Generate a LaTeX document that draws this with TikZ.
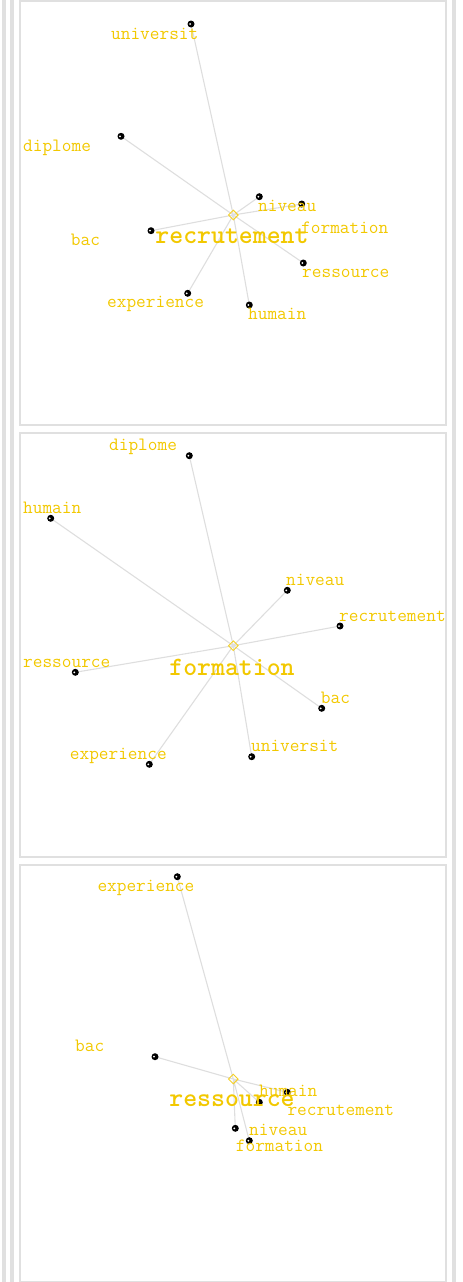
\documentclass[tikz,border=0pt]{standalone}
\usepackage{fontspec}
\usetikzlibrary{shapes.geometric,backgrounds}
\definecolor{wordgold}{RGB}{242,200,0}
\definecolor{linkgray}{RGB}{222,222,222}
\definecolor{framegray}{RGB}{224,224,224}
\tikzset{
  word/.style={text=wordgold,font=\ttfamily\fontsize{18.8}{20}\selectfont,inner sep=0pt,anchor=base west},
  keyword/.style={text=wordgold,font=\ttfamily\bfseries\fontsize{26.5}{28}\selectfont,inner sep=0pt,anchor=base},
  hub/.style={diamond,draw=wordgold!85,line width=0.9pt,inner sep=0pt,minimum size=10pt},
  ball/.style={circle,fill=black,inner sep=0pt,minimum size=7pt,
    path picture={\fill[white] ([xshift=-1pt]path picture bounding box.center) circle (1pt);}},
  link/.style={draw=linkgray,line width=1.1pt},
  panel/.style={draw=framegray,line width=2pt},
}
\begin{document}
\begin{tikzpicture}[x=1pt,y=-1pt]
\useasboundingbox (0,0) rectangle (463,1282);
\fill[framegray] (1.7,0) rectangle (5.7,1282);
\fill[framegray] (9.5,0) rectangle (14,1282);
\fill[framegray] (451.7,0) rectangle (455.8,1282);
\draw[panel] (20,1) rectangle (445.5,425);
\draw[panel] (20,433) rectangle (445.5,856.5);
\draw[panel] (20,865) rectangle (445.5,1281.5);

\node[hub] (rc) at (233.3,215) {};
\node[ball] (r1) at (191,24) {};
\node[ball] (r2) at (121,136.3) {};
\node[ball] (r3) at (259.3,196.7) {};
\node[ball] (r4) at (301.7,204) {};
\node[ball] (r5) at (151,230.7) {};
\node[ball] (r6) at (303.3,263) {};
\node[ball] (r7) at (187.7,293.3) {};
\node[ball] (r8) at (249.3,305) {};
\node[keyword] (rk) at (232,243) {recrutement};
\node[word] (rw1) at (111,39) {universit};
\node[word] (rw2) at (23,151.5) {diplome};
\node[word] (rw3) at (258,211) {niveau};
\node[word] (rw4) at (301,233) {formation};
\node[word] (rw5) at (70.7,245.5) {bac};
\node[word] (rw6) at (302,277.5) {ressource};
\node[word] (rw7) at (107,307) {experience};
\node[word] (rw8) at (248,319) {humain};

\node[hub] (fc) at (233.3,645.7) {};
\node[ball] (f1) at (189.3,455.7) {};
\node[ball] (f2) at (50.7,518.3) {};
\node[ball] (f3) at (287.3,590.3) {};
\node[ball] (f4) at (340,626) {};
\node[ball] (f5) at (75.3,672.3) {};
\node[ball] (f6) at (321.7,708.3) {};
\node[ball] (f7) at (251.7,756.7) {};
\node[ball] (f8) at (149.3,764.3) {};
\node[keyword] (fk) at (232,675) {formation};
\node[word] (fw1) at (109,450.7) {diplome};
\node[word] (fw2) at (23,513.3) {humain};
\node[word] (fw3) at (286,585) {niveau};
\node[word] (fw4) at (339,621) {recrutement};
\node[word] (fw5) at (23,667.3) {ressource};
\node[word] (fw6) at (320.7,703.3) {bac};
\node[word] (fw7) at (251,751) {universit};
\node[word] (fw8) at (69.7,759.3) {experience};

\node[hub] (sc) at (233.3,1079) {};
\node[ball] (s1) at (177.3,876.7) {};
\node[ball] (s2) at (155,1056.7) {};
\node[ball] (s3) at (287.3,1092.3) {};
\node[ball] (s4) at (259.3,1102.3) {};
\node[ball] (s5) at (235.3,1128.3) {};
\node[ball] (s6) at (249.3,1140.7) {};
\node[keyword] (sk) at (232,1106.7) {ressource};
\node[word] (sw1) at (97.3,891.7) {experience};
\node[word] (sw2) at (75,1051) {bac};
\node[word] (sw3) at (259,1096.7) {humain};
\node[word] (sw4) at (287.3,1115) {recrutement};
\node[word] (sw5) at (249,1135) {niveau};
\node[word] (sw6) at (235.7,1151) {formation};

\begin{pgfonlayer}{background}
\draw[link] (rc.center) -- (r1.center) (rc.center) -- (r2.center) (rc.center) -- (r3.center) (rc.center) -- (r4.center);
\draw[link] (rc.center) -- (r5.center) (rc.center) -- (r6.center) (rc.center) -- (r7.center) (rc.center) -- (r8.center);
\draw[link] (fc.center) -- (f1.center) (fc.center) -- (f2.center) (fc.center) -- (f3.center) (fc.center) -- (f4.center);
\draw[link] (fc.center) -- (f5.center) (fc.center) -- (f6.center) (fc.center) -- (f7.center) (fc.center) -- (f8.center);
\draw[link] (sc.center) -- (s1.center) (sc.center) -- (s2.center) (sc.center) -- (s3.center);
\draw[link] (sc.center) -- (s4.center) (sc.center) -- (s5.center) (sc.center) -- (s6.center);
\end{pgfonlayer}
\end{tikzpicture}
\end{document}
